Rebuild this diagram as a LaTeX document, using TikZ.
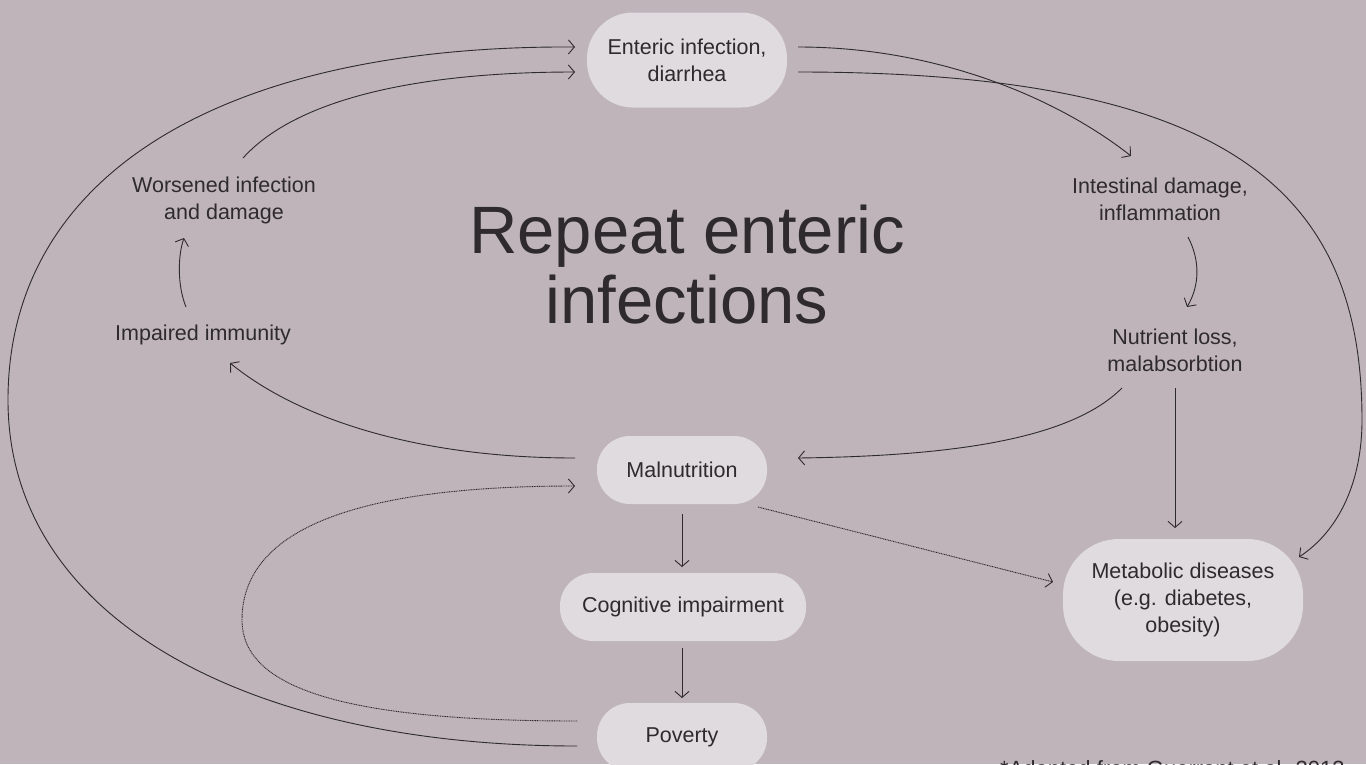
\documentclass[tikz,border=0pt]{standalone}
\usepackage{fontspec}
\setmainfont{Liberation Sans}
\usetikzlibrary{arrows.meta}
\definecolor{bg}{HTML}{BEB4BA}
\definecolor{pill}{HTML}{DFDBDF}
\definecolor{ink}{HTML}{2E2A2D}
\tikzset{
  pillbox/.style={fill=pill, draw=none, rounded corners=33pt, align=center, text=ink, font=\fontsize{21.5}{27}\selectfont, inner sep=0pt},
  lbl/.style={align=center, text=ink, font=\fontsize{21.5}{27}\selectfont, inner sep=0pt},
  ttl/.style={text=ink, font=\fontsize{67}{70}\selectfont, inner sep=0pt, anchor=base},
  conn/.style={draw=ink, line width=0.9pt, -{Straight Barb[length=6pt,width=14pt,line width=0.9pt]}},
  dotconn/.style={conn, dash pattern=on 1pt off 0.7pt},
}
\begin{document}
\begin{tikzpicture}[x=1pt,y=-1pt]
\fill[bg] (0,0) rectangle (1366,764);
\useasboundingbox (0,0) rectangle (1366,764);

% nodes
\node[pillbox, minimum width=200pt, minimum height=95pt, rounded corners=46pt] (ent) at (687,60) {Enteric infection,\\diarrhea};
\node[lbl] (int) at (1160,199) {Intestinal damage,\\inflammation};
\node[lbl] (nut) at (1175,350) {Nutrient loss,\\malabsorbtion};
\node[lbl] (wor) at (224,200) {Worsened infection\\and damage};
\node[lbl] (imm) at (203,335) {Impaired immunity};
\node[pillbox, minimum width=170pt, minimum height=68pt] (mal) at (682,470) {Malnutrition};
\node[pillbox, minimum width=246pt, minimum height=68pt] (cog) at (683,607) {Cognitive impairment};
\node[pillbox, minimum width=170pt, minimum height=68pt] (pov) at (682,737) {Poverty};
\node[pillbox, minimum width=240pt, minimum height=122pt, rounded corners=56pt] (met) at (1183,600) {Metabolic diseases\\(e.g. diabetes,\\obesity)};
\node[ttl] (title1) at (687,253) {Repeat enteric};
\node[ttl] (title2) at (687,323) {infections};
\node[anchor=base west, text=ink, font=\fontsize{22}{26}\selectfont, inner sep=0pt] (foot) at (1000,776) {*Adapted from Guerrant et al. 2013};

% connector end points
\coordinate (povS) at (577,746);
\coordinate (povD) at (577,721);
\coordinate (entL1) at (575,47);
\coordinate (entL2) at (575,72);
\coordinate (entR1) at (798,47);
\coordinate (entR2) at (798,72);
\coordinate (worS) at (243,158);
\coordinate (immN) at (186,307);
\coordinate (worB) at (184,238);
\coordinate (malL) at (575,458);
\coordinate (immE) at (230,363);
\coordinate (intN) at (1131,156);
\coordinate (intS) at (1188,237);
\coordinate (nutN) at (1187,307);
\coordinate (nutSW) at (1122,388);
\coordinate (malE) at (798,458);
\coordinate (nutS) at (1175,388);
\coordinate (metN) at (1175,528);
\coordinate (metNE) at (1299,557);
\coordinate (malSE) at (758,507);
\coordinate (metW) at (1053,582);
\coordinate (malW) at (575,486);
\coordinate (malB) at (682,514);
\coordinate (cogT) at (682,567);
\coordinate (cogB) at (682,648);
\coordinate (povT) at (682,698);

% connectors
\draw[conn] (povS) .. controls (250,746) and (8,620) .. (8,400) .. controls (8,170) and (230,45) .. (entL1);
\draw[conn] (worS) .. controls (300,95) and (430,72) .. (entL2);
\draw[conn] (immN) .. controls (177,285) and (178,255) .. (worB);
\draw[conn] (malL) .. controls (420,458) and (300,420) .. (immE);
\draw[conn] (entR1) .. controls (940,47) and (1060,100) .. (intN);
\draw[conn] (entR2) .. controls (1235,72) and (1362,195) .. (1362,420) .. controls (1362,480) and (1340,530) .. (metNE);
\draw[conn] (intS) .. controls (1200,260) and (1200,285) .. (nutN);
\draw[conn] (nutSW) .. controls (1070,440) and (950,456) .. (malE);
\draw[conn] (nutS) -- (metN);
\draw[dotconn] (malSE) -- (metW);
\draw[conn] (malB) -- (cogT);
\draw[conn] (cogB) -- (povT);
\draw[dotconn] (povD) .. controls (350,721) and (242,690) .. (242,620) .. controls (242,520) and (380,486) .. (malW);
\end{tikzpicture}
\end{document}
